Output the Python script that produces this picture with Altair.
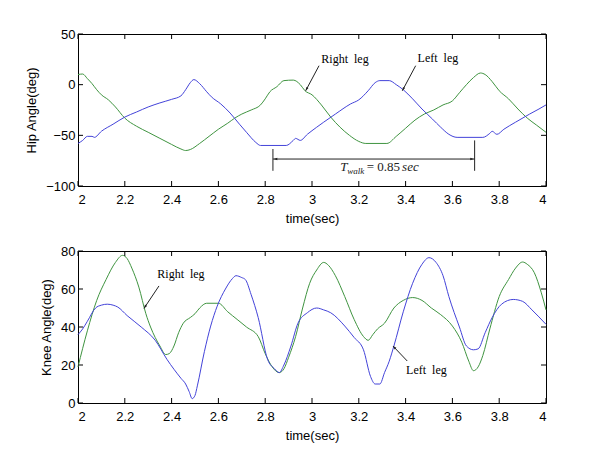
import math
import altair as alt
import pandas as pd

GREEN = "#3f9440"
BLUE = "#4343d9"

# ---------------- data ----------------
hip_right_t = [2.00, 2.02, 2.04, 2.06, 2.08, 2.10, 2.13, 2.16, 2.20, 2.25, 2.30, 2.35, 2.40, 2.44, 2.46,
               2.48, 2.52, 2.56, 2.60, 2.64, 2.67, 2.70, 2.74, 2.78, 2.80, 2.82, 2.85, 2.88, 2.92, 2.95,
               2.97, 3.00, 3.04, 3.08, 3.12, 3.16, 3.20, 3.23, 3.32, 3.36, 3.40, 3.44, 3.48, 3.52, 3.56,
               3.60, 3.63, 3.66, 3.69, 3.72, 3.74, 3.77, 3.80, 3.84, 3.88, 3.92, 3.96, 4.00]
hip_right_v = [10, 10.5, 6, 1, -5, -10, -15, -22, -33, -41, -47, -53, -59, -63.5, -65,
               -64, -58, -51, -44, -38, -33, -29, -25, -20, -14, -7, -2, 4, 4.5, 0,
               -6, -10, -20, -32, -42, -50, -56, -58, -58, -51, -43, -35, -29, -25, -20,
               -16, -8, 0, 7, 11.5, 10, 3, -6, -14, -24, -33, -40, -47]

hip_left_t = [2.00, 2.02, 2.04, 2.06, 2.07, 2.10, 2.15, 2.20, 2.25, 2.30, 2.35, 2.40, 2.44, 2.46, 2.48,
              2.495, 2.52, 2.55, 2.57, 2.61, 2.65, 2.69, 2.72, 2.76, 2.78, 2.89, 2.92, 2.93, 2.95, 2.98,
              3.02, 3.05, 3.10, 3.165, 3.20, 3.24, 3.27, 3.29, 3.33, 3.36, 3.39, 3.43, 3.47, 3.515, 3.55,
              3.585, 3.62, 3.73, 3.76, 3.77, 3.79, 3.82, 3.87, 3.93, 3.97, 4.00]
hip_left_v = [-58, -55, -51, -51, -52, -46, -39, -32, -27, -22, -18, -14.5, -11, -5, 2,
              5, 1, -7, -12, -19, -28, -39, -47, -57, -60, -60, -55, -53, -55, -49,
              -42, -37, -29, -19, -15, -6, 2, 4, 4, 0, -5, -14, -24, -34, -42,
              -49, -52, -52, -48, -46, -49, -44, -37, -29, -24, -20]

knee_right_t = [2.00, 2.04, 2.08, 2.12, 2.16, 2.19, 2.21, 2.23, 2.26, 2.29, 2.31, 2.35, 2.375, 2.39, 2.41,
                2.43, 2.45, 2.48, 2.50, 2.52, 2.55, 2.60, 2.64, 2.68, 2.72, 2.77, 2.80, 2.83, 2.86, 2.88,
                2.90, 2.93, 2.96, 2.99, 3.02, 3.05, 3.07, 3.10, 3.14, 3.18, 3.22, 3.24, 3.26, 3.28, 3.31,
                3.35, 3.39, 3.43, 3.47, 3.51, 3.55, 3.60, 3.64, 3.67, 3.69, 3.71, 3.73, 3.76, 3.80, 3.84,
                3.87, 3.90, 3.92, 3.95, 3.98, 4.00]
knee_right_v = [19, 38, 54, 65, 74, 77.7, 76, 71, 61, 47, 40, 30, 25.5, 26, 30,
                37, 42, 45, 47, 50, 52.5, 52.5, 48, 44, 40, 35, 26, 19, 16, 18,
                24, 35, 50, 63, 70, 74, 72.5, 67, 56, 44, 35, 33, 36, 39, 42,
                50, 54, 55.5, 54, 50, 46.5, 40.5, 32, 22, 17, 19, 25, 39, 56, 65,
                71, 74.2, 73, 68.6, 58, 49]

knee_left_t = [2.00, 2.02, 2.04, 2.075, 2.10, 2.125, 2.15, 2.17, 2.21, 2.27, 2.33, 2.38, 2.44, 2.46, 2.475,
               2.488, 2.50, 2.51, 2.54, 2.567, 2.595, 2.63, 2.66, 2.675, 2.70, 2.715, 2.74, 2.77, 2.81, 2.84,
               2.86, 2.88, 2.91, 2.94, 2.98, 3.02, 3.05, 3.08, 3.14, 3.18, 3.22, 3.25, 3.27, 3.29, 3.31,
               3.33, 3.35, 3.39, 3.43, 3.47, 3.50, 3.53, 3.56, 3.585, 3.63, 3.66, 3.69, 3.71, 3.74, 3.77,
               3.81, 3.86, 3.90, 3.94, 4.00]
knee_left_v = [36, 39, 43, 50, 51.5, 52, 51.5, 50.5, 46, 40, 33, 23, 13, 10, 6,
               2.3, 4, 9, 27, 40.5, 51, 60, 65.5, 67, 66, 65, 57, 45, 23, 18,
               16, 20, 30, 42, 47.5, 50, 49, 47.5, 40.5, 34.5, 28, 14, 10, 10, 16,
               22, 30, 48, 63, 73, 76.5, 74, 67, 56, 40, 30, 28, 28.5, 37, 45,
               52, 54.5, 53.5, 49, 41.4]

x_ticks = [2, 2.2, 2.4, 2.6, 2.8, 3, 3.2, 3.4, 3.6, 3.8, 4]
hip_ticks = [-100, -50, 0, 50]
knee_ticks = [0, 20, 40, 60, 80]

# annotations: labels and arrows (start -> tip), in data units
hip_labels = ["Right\u00a0\u00a0leg", "Left\u00a0\u00a0leg"]
hip_label_t = [3.141, 3.538]
hip_label_v = [25.3, 26.3]
hip_arrow_t0 = [3.03, 3.443]
hip_arrow_v0 = [18.7, 18.7]
hip_arrow_t1 = [2.973, 3.386]
hip_arrow_v1 = [-6, -6]

knee_labels = ["Right\u00a0\u00a0leg", "Left\u00a0\u00a0leg"]
knee_label_t = [2.44, 3.489]
knee_label_v = [67.9, 17.4]
knee_arrow_t0 = [2.346, 3.407]
knee_arrow_v0 = [61.6, 22.1]
knee_arrow_t1 = [2.282, 3.346]
knee_arrow_v1 = [49.8, 30]

walk_start, walk_end = 2.833, 3.695
walk_level = -73.4

W, H = 468, 152
ARROW_PATH = "M0,0L-0.33,1L0.33,1Z"
XS = alt.Scale(domain=[2, 4], nice=False, zero=False)
X_AXIS = alt.Axis(values=x_ticks, format="~g", title="time(sec)")


def lines_df(rt, rv, lt, lv):
    a = pd.DataFrame({"t": rt, "v": rv, "leg": "Right leg"})
    b = pd.DataFrame({"t": lt, "v": lv, "leg": "Left leg"})
    return pd.concat([a, b], ignore_index=True)


def arrow_df(t0, v0, t1, v1, ydom):
    sx = W / 2.0
    sy = H / (ydom[1] - ydom[0])
    ang = []
    for a, b, c, d in zip(t0, v0, t1, v1):
        dx = (c - a) * sx
        dy = -(d - b) * sy
        ang.append(math.degrees(math.atan2(dx, -dy)) % 360)
    return pd.DataFrame({"t0": t0, "v0": v0, "t1": t1, "v1": v1, "ang": ang})


def make_xy(ys, yaxis):
    def X(f):
        return alt.X(f, scale=XS, axis=X_AXIS, title="time(sec)")

    def Y(f):
        return alt.Y(f, scale=ys, axis=yaxis, title=yaxis.title)
    return X, Y


def panel(df, ydom, yticks, ytitle, labels, lt, lv, arrows, extra_fn=None):
    ys = alt.Scale(domain=ydom, nice=False, zero=False)
    yaxis = alt.Axis(values=yticks, format="d", title=ytitle)
    X, Y = make_xy(ys, yaxis)
    lines = alt.Chart(df).mark_line(strokeWidth=1, interpolate="monotone").encode(
        x=X("t:Q"), y=Y("v:Q"),
        color=alt.Color("leg:N", scale=alt.Scale(domain=["Left leg", "Right leg"],
                                                 range=[BLUE, GREEN]), legend=None),
        detail="leg:N",
    )
    xt = pd.DataFrame({"t": x_ticks})
    yt = pd.DataFrame({"v": yticks})
    tick_style = dict(color="black", strokeWidth=1)
    xb = alt.Chart(xt).mark_rule(**tick_style).encode(
        x=X("t:Q"), y=alt.value(H), y2=alt.value(H - 5))
    xtop = alt.Chart(xt).mark_rule(**tick_style).encode(
        x=X("t:Q"), y=alt.value(0), y2=alt.value(5))
    yl = alt.Chart(yt).mark_rule(**tick_style).encode(
        y=Y("v:Q"), x=alt.value(0), x2=alt.value(5))
    yr = alt.Chart(yt).mark_rule(**tick_style).encode(
        y=Y("v:Q"), x=alt.value(W), x2=alt.value(W - 5))

    ldf = pd.DataFrame({"t": lt, "v": lv, "txt": labels})
    text = alt.Chart(ldf).mark_text(font="Liberation Serif", fontSize=12, color="black",
                                    align="center", baseline="middle").encode(
        x=X("t:Q"), y=Y("v:Q"), text="txt:N")
    arr = alt.Chart(arrows).mark_rule(color="#222", strokeWidth=1).encode(
        x=X("t0:Q"), y=Y("v0:Q"), x2="t1:Q", y2="v1:Q")
    heads = alt.Chart(arrows).mark_point(shape=ARROW_PATH, filled=True, color="#222",
                                         size=55, opacity=1).encode(
        x=X("t1:Q"), y=Y("v1:Q"), angle=alt.Angle("ang:Q", scale=None))
    layers = [lines, xb, xtop, yl, yr, arr, heads, text]
    if extra_fn:
        layers += extra_fn(X, Y)
    return alt.layer(*layers).properties(width=W, height=H)


hip_df = lines_df(hip_right_t, hip_right_v, hip_left_t, hip_left_v)
knee_df = lines_df(knee_right_t, knee_right_v, knee_left_t, knee_left_v)

hip_dom = [-100, 50]
knee_dom = [0, 80]

# T_walk annotation
walk_line = pd.DataFrame({"t0": [walk_start], "t1": [walk_end], "v": [walk_level]})
walk_vert = pd.DataFrame({"t": [walk_start, walk_end], "v0": [-63.5, -55], "v1": [-85, -85]})
walk_heads = pd.DataFrame({"t": [walk_start + 0.003, walk_end - 0.003], "v": [walk_level, walk_level],
                           "ang": [270, 90]})
walk_ital = pd.DataFrame({"t": [3.121, 3.385], "v": [-81.5, -81.5], "txt": ["T", "sec"]})
walk_sub = pd.DataFrame({"t": [3.151], "v": [-85.5], "txt": ["walk"]})
walk_norm = pd.DataFrame({"t": [3.234], "v": [-81.5], "txt": ["= 0.85"]})


def hip_extra(X, Y):
    return [
        alt.Chart(walk_line).mark_rule(color="#222", strokeWidth=1).encode(
            x=X("t0:Q"), x2="t1:Q", y=Y("v:Q")),
        alt.Chart(walk_vert).mark_rule(color="#222", strokeWidth=1).encode(
            x=X("t:Q"), y=Y("v0:Q"), y2="v1:Q"),
        alt.Chart(walk_heads).mark_point(shape=ARROW_PATH, filled=True, color="#222",
                                         size=55, opacity=1).encode(
            x=X("t:Q"), y=Y("v:Q"), angle=alt.Angle("ang:Q", scale=None)),
        alt.Chart(walk_ital).mark_text(font="Liberation Serif", fontSize=13, fontStyle="italic",
                                       color="#222", align="left", baseline="middle").encode(
            x=X("t:Q"), y=Y("v:Q"), text="txt:N"),
        alt.Chart(walk_sub).mark_text(font="Liberation Serif", fontSize=9, fontStyle="italic",
                                      color="#222", align="left", baseline="middle").encode(
            x=X("t:Q"), y=Y("v:Q"), text="txt:N"),
        alt.Chart(walk_norm).mark_text(font="Liberation Serif", fontSize=13,
                                       color="#222", align="left", baseline="middle").encode(
            x=X("t:Q"), y=Y("v:Q"), text="txt:N"),
    ]


top = panel(hip_df, hip_dom, hip_ticks, "Hip Angle(deg)", hip_labels, hip_label_t, hip_label_v,
            arrow_df(hip_arrow_t0, hip_arrow_v0, hip_arrow_t1, hip_arrow_v1, hip_dom), hip_extra)
bottom = panel(knee_df, knee_dom, knee_ticks, "Knee Angle(deg)", knee_labels, knee_label_t,
               knee_label_v,
               arrow_df(knee_arrow_t0, knee_arrow_v0, knee_arrow_t1, knee_arrow_v1, knee_dom))

chart = alt.vconcat(top, bottom, spacing=18).properties(
    padding={"left": 17, "top": 19, "right": 5, "bottom": 5}
).configure_view(stroke="black", strokeWidth=1).configure_axis(
    grid=False, ticks=False, domain=False,
    labelFont="Liberation Sans", labelFontSize=13, labelColor="black",
    titleFont="Liberation Sans", titleFontSize=13, titleFontWeight="normal", titleColor="black",
).configure_axisX(labelPadding=7, titlePadding=6).configure_axisY(
    labelPadding=3, titlePadding=7
)

chart.save("out.html", embed_options={"renderer": "svg", "actions": False})
